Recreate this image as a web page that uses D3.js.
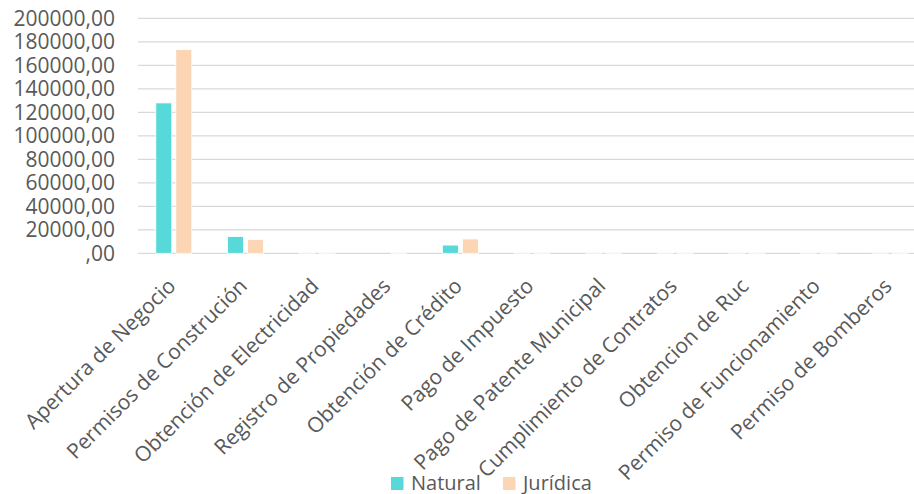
<!DOCTYPE html>
<html>
<head>
<meta charset="utf-8">
<script src="https://cdn.jsdelivr.net/npm/d3@7"></script>
<style>
  html, body { margin: 0; padding: 0; background: #fff; }
  svg { display: block; font-family: "Open Sans", sans-serif; }
</style>
</head>
<body>
<svg id="chart" width="914" height="494"></svg>
<script>
const categories = [
  "Apertura de Negocio",
  "Permisos de Construción",
  "Obtención de Electricidad",
  "Registro de Propiedades",
  "Obtención de Crédito",
  "Pago de Impuesto",
  "Pago de Patente Municipal",
  "Cumplimiento de Contratos",
  "Obtencion de Ruc",
  "Permiso de Funcionamiento",
  "Permiso de Bomberos"
];
const seriesNames = ["Natural", "Jurídica"];
const naturalValues = [128000, 14200, 700, 0, 7000, 700, 700, 600, 700, 600, 700];
const juridicaValues = [173400, 11600, 300, 300, 12200, 300, 300, 300, 300, 300, 300];
const yTicks = [0, 20000, 40000, 60000, 80000, 100000, 120000, 140000, 160000, 180000, 200000];
const colors = ["#58d9d9", "#fcd5b4"];

const svg = d3.select("#chart");
const textColor = "#595959";
const plot = { left: 138, right: 926, top: 18.3, bottom: 253.3 };

const x0 = d3.scaleBand().domain(categories).range([plot.left, plot.right]).paddingInner(0).paddingOuter(0);
const step = x0.bandwidth();
const x1 = d3.scaleBand().domain(seriesNames)
  .range([step * 0.2486, step * 0.7514]).paddingInner(0.2).paddingOuter(0);
const y = d3.scaleLinear().domain([0, 200000]).range([plot.bottom, plot.top]);

// gridlines
svg.append("g").selectAll("line").data(yTicks).join("line")
  .attr("x1", plot.left).attr("x2", 914)
  .attr("y1", d => y(d)).attr("y2", d => y(d))
  .attr("stroke", "#d9d9d9").attr("stroke-width", 1.3);

// y axis
const yAxis = d3.axisLeft(y).tickValues(yTicks)
  .tickFormat(d => d === 0 ? ",00" : d + ",00").tickSize(0).tickPadding(0);
const yg = svg.append("g").attr("transform", "translate(115,0)").call(yAxis);
yg.select(".domain").remove();
yg.selectAll("text").attr("fill", textColor).attr("font-size", 21)
  .attr("font-family", "'Open Sans', sans-serif").attr("dy", "0.34em");

// bars
const seriesData = [naturalValues, juridicaValues];
const groups = svg.append("g").selectAll("g").data(categories).join("g")
  .attr("transform", d => `translate(${x0(d)},0)`);
groups.selectAll("rect")
  .data((c, i) => seriesNames.map((s, j) => ({ s, v: seriesData[j][i], j })))
  .join("rect")
  .attr("x", d => x1(d.s))
  .attr("width", x1.bandwidth())
  .attr("y", d => y(d.v))
  .attr("height", d => plot.bottom - y(d.v))
  .attr("fill", d => colors[d.j])
  .attr("stroke", "#ffffff").attr("stroke-width", 0.8);

// x axis labels
const xAxis = d3.axisBottom(x0).tickSize(0).tickPadding(0);
const xg = svg.append("g").attr("transform", `translate(0,${plot.bottom})`).call(xAxis);
xg.select(".domain").remove();
xg.selectAll("text")
  .attr("fill", textColor).attr("font-size", 21)
  .attr("font-family", "'Open Sans', sans-serif")
  .attr("text-anchor", "end")
  .attr("dy", null).attr("y", null)
  .attr("transform", "translate(3,34) rotate(-45)");

// legend
const legend = svg.append("g");
const legendX = [391, 503];
seriesNames.forEach((s, i) => {
  legend.append("rect").attr("x", legendX[i]).attr("y", 477).attr("width", 12.5).attr("height", 13)
    .attr("fill", colors[i]);
  legend.append("text").attr("x", legendX[i] + 20).attr("y", 490)
    .attr("fill", textColor).attr("font-size", 20).text(s);
});
</script>
</body>
</html>
